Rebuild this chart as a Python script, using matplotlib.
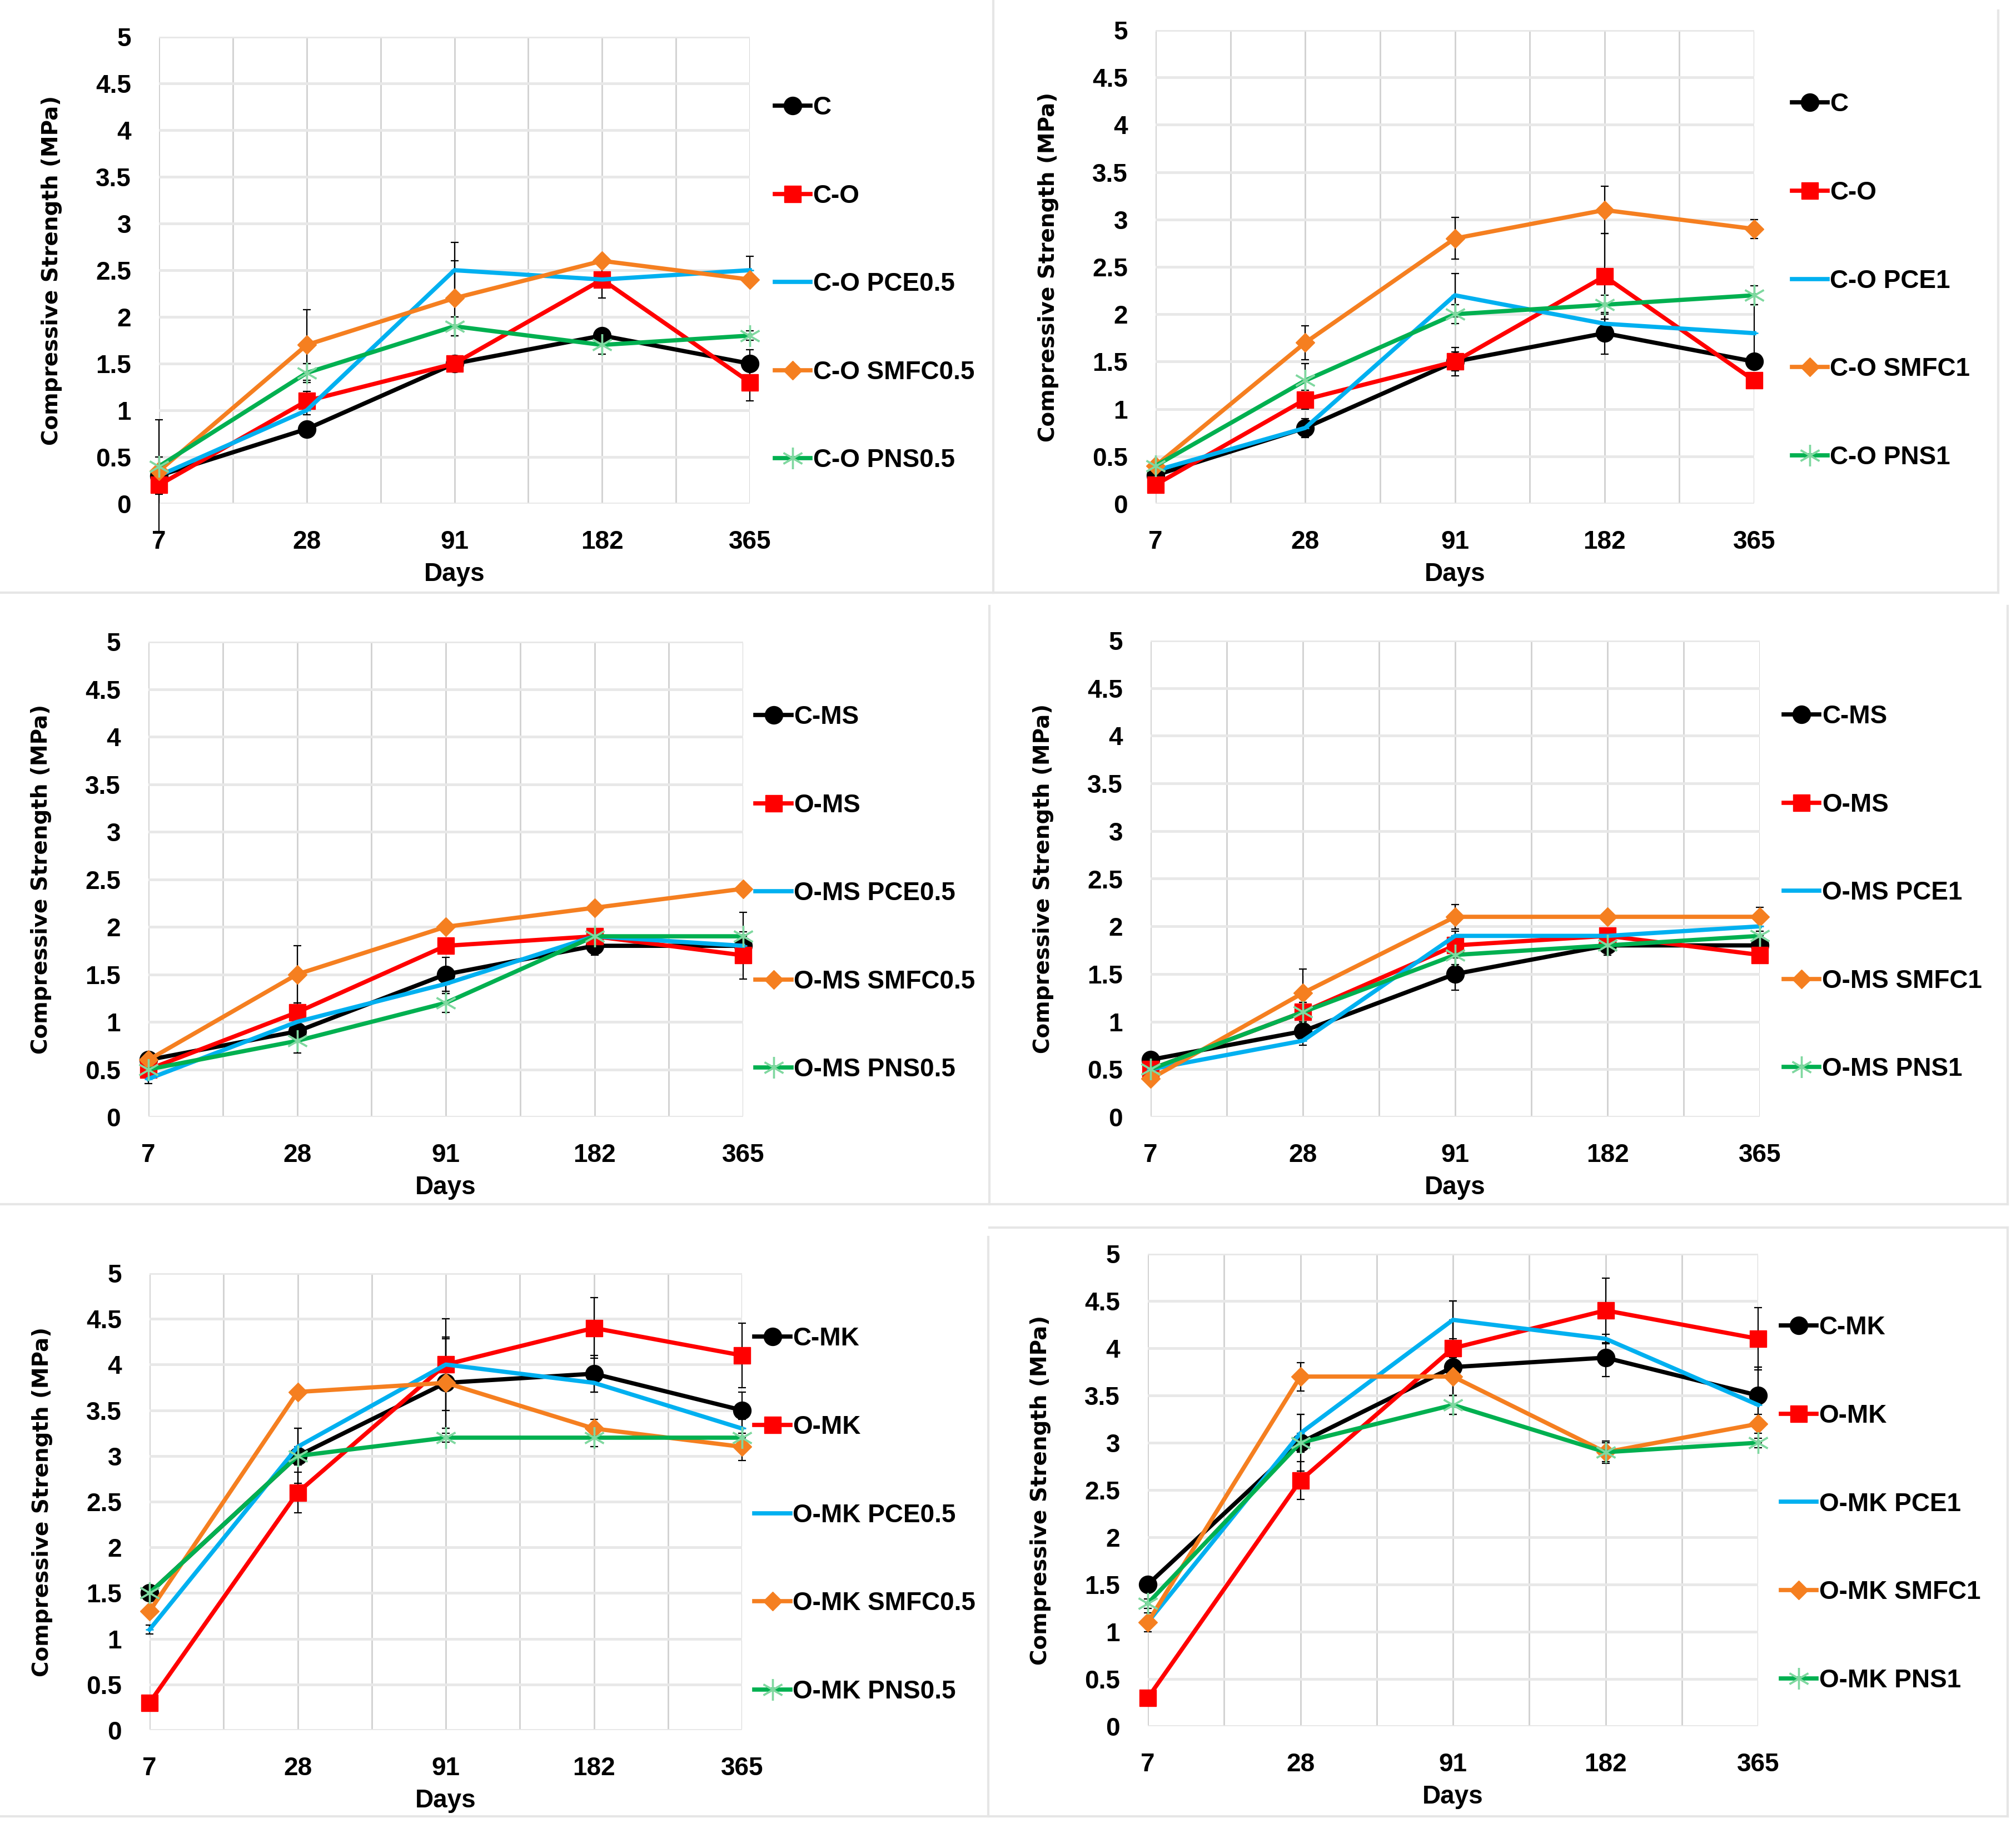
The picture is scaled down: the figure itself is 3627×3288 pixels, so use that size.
import matplotlib
matplotlib.use('Agg')
import matplotlib.pyplot as plt
from matplotlib.lines import Line2D

plt.rcParams['font.family'] = ['Liberation Sans', 'DejaVu Sans']
plt.rcParams['font.weight'] = 'bold'
plt.rcParams['axes.labelweight'] = 'bold'

days = ['7', '28', '91', '182', '365']

# top row - cement / oil mixes
labels_co05 = ['C', 'C-O', 'C-O PCE0.5', 'C-O SMFC0.5', 'C-O PNS0.5']
vals_co05 = [[0.3, 0.8, 1.5, 1.8, 1.5],
             [0.2, 1.1, 1.5, 2.4, 1.3],
             [0.3, 1.0, 2.5, 2.4, 2.5],
             [0.35, 1.7, 2.2, 2.6, 2.4],
             [0.4, 1.4, 1.9, 1.7, 1.8]]
errs_co05 = [[0.05, 0.05, 0.05, 0.05, 0.15],
             [0.1, 0.1, 0.05, 0.2, 0.2],
             [0.6, 0.05, 0.3, 0.05, 0.15],
             [0.05, 0.38, 0.4, 0.05, 0.05],
             [0.1, 0.1, 0.1, 0.1, 0.05]]

labels_co1 = ['C', 'C-O', 'C-O PCE1', 'C-O SMFC1', 'C-O PNS1']
vals_co1 = [[0.3, 0.8, 1.5, 1.8, 1.5],
            [0.2, 1.1, 1.5, 2.4, 1.3],
            [0.35, 0.8, 2.2, 1.9, 1.8],
            [0.4, 1.7, 2.8, 3.1, 2.9],
            [0.4, 1.3, 2.0, 2.1, 2.2]]
errs_co1 = [[0.05, 0.1, 0.15, 0.22, 0.05],
            [0.05, 0.1, 0.1, 0.45, 0.08],
            [0.05, 0.05, 0.23, 0.05, 0.3],
            [0.05, 0.18, 0.22, 0.25, 0.1],
            [0.05, 0.18, 0.1, 0.1, 0.1]]

# middle row - MS mixes
labels_ms05 = ['C-MS', 'O-MS', 'O-MS PCE0.5', 'O-MS SMFC0.5', 'O-MS PNS0.5']
vals_ms05 = [[0.6, 0.9, 1.5, 1.8, 1.8],
             [0.5, 1.1, 1.8, 1.9, 1.7],
             [0.4, 1.0, 1.4, 1.9, 1.8],
             [0.6, 1.5, 2.0, 2.2, 2.4],
             [0.5, 0.8, 1.2, 1.9, 1.9]]
errs_ms05 = [[0.05, 0.1, 0.18, 0.1, 0.1],
             [0.05, 0.1, 0.05, 0.05, 0.25],
             [0.05, 0.05, 0.1, 0.05, 0.05],
             [0.05, 0.3, 0.05, 0.05, 0.05],
             [0.05, 0.13, 0.1, 0.05, 0.25]]

labels_ms1 = ['C-MS', 'O-MS', 'O-MS PCE1', 'O-MS SMFC1', 'O-MS PNS1']
vals_ms1 = [[0.6, 0.9, 1.5, 1.8, 1.8],
            [0.5, 1.1, 1.8, 1.9, 1.7],
            [0.5, 0.8, 1.9, 1.9, 2.0],
            [0.4, 1.3, 2.1, 2.1, 2.1],
            [0.5, 1.1, 1.7, 1.8, 1.9]]
errs_ms1 = [[0.05, 0.1, 0.17, 0.1, 0.1],
            [0.05, 0.1, 0.1, 0.05, 0.05],
            [0.05, 0.05, 0.05, 0.05, 0.05],
            [0.05, 0.25, 0.13, 0.05, 0.1],
            [0.05, 0.1, 0.1, 0.1, 0.05]]

# bottom row - MK mixes
labels_mk05 = ['C-MK', 'O-MK', 'O-MK PCE0.5', 'O-MK SMFC0.5', 'O-MK PNS0.5']
vals_mk05 = [[1.5, 3.0, 3.8, 3.9, 3.5],
             [0.3, 2.6, 4.0, 4.4, 4.1],
             [1.1, 3.1, 4.0, 3.8, 3.3],
             [1.3, 3.7, 3.8, 3.3, 3.1],
             [1.5, 3.0, 3.2, 3.2, 3.2]]
errs_mk05 = [[0.05, 0.3, 0.5, 0.2, 0.2],
             [0.05, 0.22, 0.5, 0.33, 0.35],
             [0.05, 0.2, 0.28, 0.1, 0.1],
             [0.05, 0.05, 0.5, 0.1, 0.15],
             [0.05, 0.1, 0.05, 0.1, 0.05]]

labels_mk1 = ['C-MK', 'O-MK', 'O-MK PCE1', 'O-MK SMFC1', 'O-MK PNS1']
vals_mk1 = [[1.5, 3.0, 3.8, 3.9, 3.5],
            [0.3, 2.6, 4.0, 4.4, 4.1],
            [1.1, 3.1, 4.3, 4.1, 3.4],
            [1.1, 3.7, 3.7, 2.9, 3.2],
            [1.3, 3.0, 3.4, 2.9, 3.0]]
errs_mk1 = [[0.05, 0.3, 0.5, 0.2, 0.3],
            [0.05, 0.2, 0.5, 0.34, 0.33],
            [0.05, 0.2, 0.2, 0.05, 0.4],
            [0.1, 0.15, 0.2, 0.12, 0.1],
            [0.05, 0.1, 0.1, 0.1, 0.05]]

panels = [(labels_co05, vals_co05, errs_co05), (labels_co1, vals_co1, errs_co1),
          (labels_ms05, vals_ms05, errs_ms05), (labels_ms1, vals_ms1, errs_ms1),
          (labels_mk05, vals_mk05, errs_mk05), (labels_mk1, vals_mk1, errs_mk1)]

# series styles: colour, marker, size, marker colour, edge width
styles = [('black', 'o', 23, 'black', 1),
          ('#ff0000', 's', 22, '#ff0000', 1),
          ('#00b0f0', '_', 10, '#00b0f0', 2),
          ('#f57f20', 'D', 17, '#f57f20', 1),
          ('#00b050', (6, 2, 0), 28, '#80d8a0', 2.4)]

W, H = 3627, 3288
# axes boxes in pixels: left, top, right, bottom
boxes = [(286, 66, 1349, 906), (2079, 54, 3156, 906),
         (267, 1154, 1337, 2009), (2070, 1152, 3166, 2009),
         (269, 2290, 1335, 3112), (2065, 2255, 3163, 3105)]
# light grey panel edges (x0, y0, x1, y1)
edges = [(1787, 0, 1787, 1066), (0, 1066, 1787, 1066),
         (3595, 19, 3595, 1066), (1787, 1066, 3595, 1066),
         (1780, 1090, 1780, 2166), (0, 2166, 3612, 2166),
         (3612, 1090, 3612, 2166),
         (1778, 2225, 1778, 3267), (0, 3267, 1778, 3267),
         (1780, 2208, 3612, 2208), (3612, 2208, 3612, 3267), (1780, 3267, 3612, 3267)]
leg_x = [1.012, 1.033, 0.991, 1.01, 0.991, 1.008]

fig = plt.figure(figsize=(W / 100, H / 100), dpi=100)

for (x0, y0, x1, y1) in edges:
    fig.add_artist(Line2D([x0 / W, x1 / W], [1 - y0 / H, 1 - y1 / H],
                          transform=fig.transFigure, color='#e6e6e6', lw=3))

for i, (labels, vals, errs) in enumerate(panels):
    l, t, r, b = boxes[i]
    ax = fig.add_axes([l / W, 1 - b / H, (r - l) / W, (b - t) / H])
    xs = list(range(len(days)))
    for j in range(len(labels)):
        c, m, ms, mc, mew = styles[j]
        ax.errorbar(xs, vals[j], yerr=errs[j], fmt='none', ecolor='black',
                    elinewidth=1.6, capsize=5, capthick=1.6, zorder=2, clip_on=False)
        ax.plot(xs, vals[j], color=c, lw=5.5, marker=m, ms=ms, mfc=mc, mec=mc,
                mew=mew, label=labels[j], zorder=3, clip_on=False)
    ax.set_xlim(0, 4)
    ax.set_ylim(0, 5)
    ax.set_xticks(xs)
    ax.set_xticklabels(days)
    ax.set_yticks([k * 0.5 for k in range(11)])
    ax.set_yticklabels(['0', '0.5', '1', '1.5', '2', '2.5', '3', '3.5', '4', '4.5', '5'])
    ax.set_xticks([0.5, 1.5, 2.5, 3.5], minor=True)
    ax.grid(axis='x', which='both', color='#d0d0d0', lw=2)
    ax.grid(axis='y', which='major', color='#e8e8e8', lw=3.5)
    ax.set_axisbelow(True)
    for s in ax.spines.values():
        s.set_visible(False)
    ax.tick_params(which='both', length=0, labelsize=33)
    ax.tick_params(axis='x', pad=34)
    ax.tick_params(axis='y', pad=36)
    ax.set_xlabel('Days', fontsize=33, labelpad=10)
    ax.set_ylabel('Compressive Strength (MPa)', fontsize=28,
                  family=['DejaVu Sans'], fontweight='bold')
    ax.yaxis.set_label_coords(-174 / (r - l), 0.5)
    ax.legend(loc='center left', bbox_to_anchor=(leg_x[i], 0.47), frameon=False,
              fontsize=33, labelspacing=2.5, handlelength=1.4, handletextpad=0.1,
              borderaxespad=0.3)

fig.savefig('out.png', dpi=100, facecolor='white')
